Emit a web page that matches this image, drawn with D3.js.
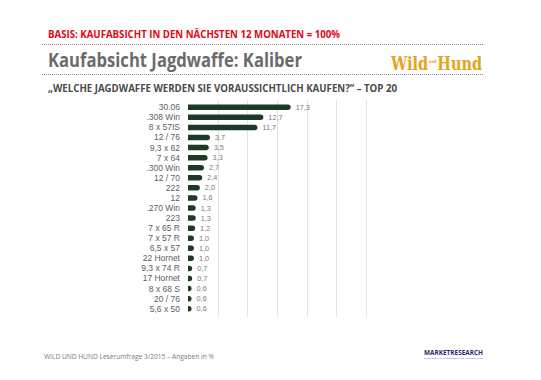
<!DOCTYPE html>
<html><head><meta charset="utf-8">
<script src="https://cdn.jsdelivr.net/npm/d3@7"></script>
<style>
html,body{margin:0;padding:0;background:#fff;}
svg{display:block;}
</style></head>
<body>
<svg id="chart" width="541" height="380"></svg>
<script>
const categories = ["30.06",".308 Win","8 x 57IS","12 / 76","9,3 x 62","7 x 64",".300 Win","12 / 70","222","12",".270 Win","223","7 x 65 R","7 x 57 R","6,5 x 57","22 Hornet","9,3 x 74 R","17 Hornet","8 x 68 S","20 / 76","5,6 x 50"];
const values = [17.3,12.7,11.7,3.7,3.5,3.3,2.7,2.4,2.0,1.6,1.3,1.3,1.2,1.0,1.0,1.0,0.7,0.7,0.6,0.6,0.6];
const gridTicks = [5,10,15,20,25,30];

const svg = d3.select("#chart");
const fmt = v => d3.format(".1f")(v).replace(".", ",");
const SANS = "'Open Sans','Liberation Sans',Arial,sans-serif";
const LAB = "'Liberation Sans',Arial,sans-serif";

// header
svg.append("text").attr("x",48).attr("y",38).attr("fill","#e30613")
  .style("font-family",SANS).attr("font-size",10.2).attr("font-weight","bold")
  .attr("textLength",292).attr("lengthAdjust","spacingAndGlyphs")
  .text("BASIS: KAUFABSICHT IN DEN NÄCHSTEN 12 MONATEN = 100%");
[44.5,74.5].forEach(y=>{
  svg.append("line").attr("x1",42).attr("x2",483).attr("y1",y).attr("y2",y)
    .attr("stroke","#8c8c8c").attr("stroke-width",1).attr("stroke-dasharray","1,1");
});
svg.append("text").attr("x",48).attr("y",67).attr("fill","#6b6b6b")
  .style("font-family",SANS).attr("font-size",20).attr("font-weight","bold")
  .attr("textLength",254).attr("lengthAdjust","spacingAndGlyphs")
  .text("Kaufabsicht Jagdwaffe: Kaliber");
svg.append("text").attr("x",48).attr("y",92).attr("fill","#4a4a4a")
  .style("font-family",SANS).attr("font-size",10).attr("font-weight","bold")
  .attr("textLength",349).attr("lengthAdjust","spacingAndGlyphs")
  .text("„WELCHE JAGDWAFFE WERDEN SIE VORAUSSICHTLICH KAUFEN?“ – TOP 20");

// logo
const SERIF = "'DejaVu Serif','Liberation Serif',serif";
const logo = svg.append("text").attr("x",391).attr("y",70).attr("fill","#e8a317")
  .style("font-family",SERIF).attr("font-weight","bold");
logo.append("tspan").attr("font-size",19).text("Wild");
logo.append("tspan").attr("font-size",4.5).attr("dx",1).attr("dy",-7).text("und");
logo.append("tspan").attr("font-size",19).attr("dx",1).attr("dy",7).text("Hund");
// fit logo width
const bb = logo.node().getBBox();
logo.attr("transform",`translate(391,0) scale(${92/bb.width},1) translate(-391,0)`);

// chart
const x = d3.scaleLinear().domain([0,30]).range([188,366]);
const y = d3.scaleBand().domain(categories).range([102,314]).paddingInner(0.45).paddingOuter(0.25);

svg.append("g").selectAll("line").data(gridTicks).join("line")
  .attr("x1",d=>Math.round(x(d))+0.5).attr("x2",d=>Math.round(x(d))+0.5)
  .attr("y1",100).attr("y2",317).attr("stroke","#e3e3e3").attr("stroke-width",1);

const bh = 5.5;
const rows = svg.append("g").selectAll("g").data(categories).join("g");
rows.append("path")
  .attr("d",(d,i)=>{
    const x0 = x(0), x1 = x(values[i]);
    const yc = y(d)+y.bandwidth()/2;
    const r = bh/2;
    return `M${x0},${yc-r}L${x1-r},${yc-r}A${r},${r} 0 0 1 ${x1-r},${yc+r}L${x0},${yc+r}Z`;
  })
  .attr("fill","#1d3a26");
rows.append("text")
  .attr("x",180).attr("y",d=>y(d)+y.bandwidth()/2).attr("dy","0.35em")
  .attr("text-anchor","end").style("font-family",LAB).attr("font-size",8.5).attr("fill","#606060")
  .text(d=>d);
rows.append("text")
  .attr("x",(d,i)=>x(values[i])+5).attr("y",d=>y(d)+y.bandwidth()/2).attr("dy","0.35em")
  .style("font-family",LAB).attr("font-size",7.3).attr("fill","#7a7a7a")
  .text((d,i)=>fmt(values[i]));

// footer
svg.append("text").attr("x",44).attr("y",359).attr("fill","#7a7a7a")
  .style("font-family",SANS).attr("font-size",7)
  .attr("textLength",170).attr("lengthAdjust","spacingAndGlyphs")
  .text("WILD UND HUND Leserumfrage 3/2015 – Angaben in %");
svg.append("text").attr("x",424).attr("y",355).attr("fill","#1f2a6b")
  .style("font-family",SANS).attr("font-size",6.5).attr("font-weight","bold")
  .attr("textLength",59).attr("lengthAdjust","spacingAndGlyphs").text("MARKETRESEARCH");
svg.append("text").attr("x",424).attr("y",359).attr("fill","#5a6090")
  .style("font-family",SANS).attr("font-size",2)
  .attr("textLength",59).attr("lengthAdjust","spacingAndGlyphs")
  .text("LEISTUNGEN IM MARKTFORSCHUNG UND BERATUNG");
</script>
</body></html>
